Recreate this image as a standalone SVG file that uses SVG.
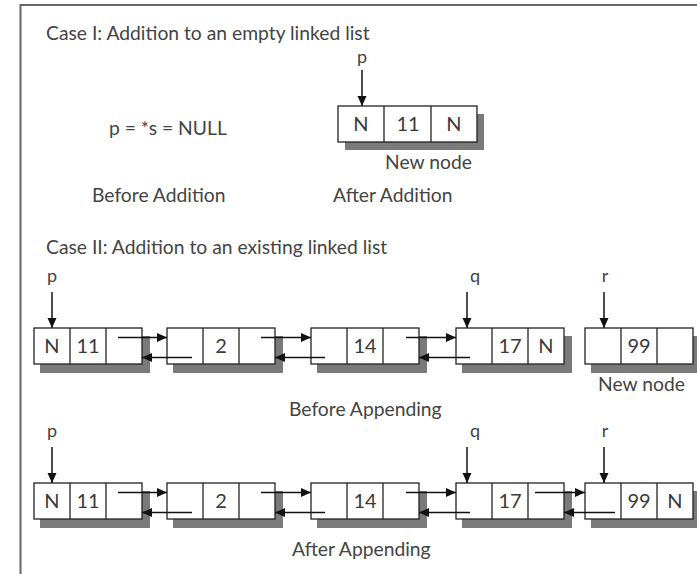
<svg xmlns="http://www.w3.org/2000/svg" width="697" height="574" viewBox="0 0 697 574">
<style>
text{font-family:"Lato","Liberation Sans",sans-serif;fill:#444;}
.lbl{font-size:19.3px;}
.cell{font-size:20px;text-anchor:middle;fill:#3a3a3a;}
.ptr{font-size:18px;text-anchor:middle;}
.box{fill:#fff;stroke:#222;stroke-width:1.3;}
.shd{fill:#7a7a7a;}
.div{stroke:#222;stroke-width:1.3;}
.con{stroke:#111;stroke-width:1.5;fill:none;marker-end:url(#ah);}
</style>
<defs>
<marker id="ah" markerUnits="userSpaceOnUse" markerWidth="11" markerHeight="10" refX="10" refY="4.5" orient="auto">
<path d="M0,0 L10,4.5 L0,9 z" fill="#111"/>
</marker>
</defs>
<rect width="697" height="574" fill="#fff"/>
<path d="M20.5,574 V5 H697" fill="none" stroke="#666" stroke-width="2"/>

<g id="labels">
<text class="lbl" x="46" y="40">Case I: Addition to an empty linked list</text>
<text class="lbl" x="109" y="135">p = *s = NULL</text>
<text class="lbl" x="92" y="202">Before Addition</text>
<text class="lbl" x="333" y="202">After Addition</text>
<text class="lbl" x="385" y="169">New node</text>
<text class="lbl" x="46" y="254">Case II: Addition to an existing linked list</text>
<text class="lbl" x="598" y="391">New node</text>
<text class="lbl" x="289" y="416">Before Appending</text>
<text class="lbl" x="292" y="556">After Appending</text>
<text class="ptr" x="362" y="63">p</text>
<text class="ptr" x="52" y="282">p</text>
<text class="ptr" x="475" y="282">q</text>
<text class="ptr" x="605" y="282">r</text>
<text class="ptr" x="52" y="437">p</text>
<text class="ptr" x="475" y="437">q</text>
<text class="ptr" x="605" y="437">r</text>
</g>

<g id="n0">
<rect class="shd" x="345" y="114" width="139" height="36"/>
<rect class="box" x="338" y="106" width="139" height="36"/>
<line class="div" x1="384" y1="106" x2="384" y2="142"/>
<line class="div" x1="431" y1="106" x2="431" y2="142"/>
<text class="cell" x="361" y="131">N</text>
<text class="cell" x="408" y="131">11</text>
<text class="cell" x="454" y="131">N</text>
</g>

<g id="a1">
<rect class="shd" x="40" y="336" width="110" height="37"/>
<rect class="box" x="34" y="328" width="108" height="36"/>
<line class="div" x1="70" y1="328" x2="70" y2="364"/>
<line class="div" x1="106" y1="328" x2="106" y2="364"/>
<text class="cell" x="52" y="353">N</text>
<text class="cell" x="88" y="353">11</text>
</g>
<g id="a2">
<rect class="shd" x="173" y="336" width="110" height="37"/>
<rect class="box" x="167" y="328" width="108" height="36"/>
<line class="div" x1="203" y1="328" x2="203" y2="364"/>
<line class="div" x1="239" y1="328" x2="239" y2="364"/>
<text class="cell" x="221" y="353">2</text>
</g>
<g id="a3">
<rect class="shd" x="317" y="336" width="110" height="37"/>
<rect class="box" x="311" y="328" width="108" height="36"/>
<line class="div" x1="347" y1="328" x2="347" y2="364"/>
<line class="div" x1="383" y1="328" x2="383" y2="364"/>
<text class="cell" x="365" y="353">14</text>
</g>
<g id="a4">
<rect class="shd" x="462" y="336" width="110" height="37"/>
<rect class="box" x="456" y="328" width="108" height="36"/>
<line class="div" x1="492" y1="328" x2="492" y2="364"/>
<line class="div" x1="528" y1="328" x2="528" y2="364"/>
<text class="cell" x="510" y="353">17</text>
<text class="cell" x="546" y="353">N</text>
</g>
<g id="a5">
<rect class="shd" x="591" y="336" width="106" height="37"/>
<rect class="box" x="585" y="328" width="108" height="36"/>
<line class="div" x1="621" y1="328" x2="621" y2="364"/>
<line class="div" x1="657" y1="328" x2="657" y2="364"/>
<text class="cell" x="639" y="353">99</text>
</g>

<g id="b1">
<rect class="shd" x="40" y="491" width="110" height="37"/>
<rect class="box" x="34" y="483" width="108" height="36"/>
<line class="div" x1="70" y1="483" x2="70" y2="519"/>
<line class="div" x1="106" y1="483" x2="106" y2="519"/>
<text class="cell" x="52" y="508">N</text>
<text class="cell" x="88" y="508">11</text>
</g>
<g id="b2">
<rect class="shd" x="173" y="491" width="110" height="37"/>
<rect class="box" x="167" y="483" width="108" height="36"/>
<line class="div" x1="203" y1="483" x2="203" y2="519"/>
<line class="div" x1="239" y1="483" x2="239" y2="519"/>
<text class="cell" x="221" y="508">2</text>
</g>
<g id="b3">
<rect class="shd" x="317" y="491" width="110" height="37"/>
<rect class="box" x="311" y="483" width="108" height="36"/>
<line class="div" x1="347" y1="483" x2="347" y2="519"/>
<line class="div" x1="383" y1="483" x2="383" y2="519"/>
<text class="cell" x="365" y="508">14</text>
</g>
<g id="b4">
<rect class="shd" x="462" y="491" width="110" height="37"/>
<rect class="box" x="456" y="483" width="108" height="36"/>
<line class="div" x1="492" y1="483" x2="492" y2="519"/>
<line class="div" x1="528" y1="483" x2="528" y2="519"/>
<text class="cell" x="510" y="508">17</text>
</g>
<g id="b5">
<rect class="shd" x="591" y="491" width="106" height="37"/>
<rect class="box" x="585" y="483" width="108" height="36"/>
<line class="div" x1="621" y1="483" x2="621" y2="519"/>
<line class="div" x1="657" y1="483" x2="657" y2="519"/>
<text class="cell" x="639" y="508">99</text>
<text class="cell" x="675" y="508">N</text>
</g>

<g id="connectors">
<path class="con" d="M362,70 V106"/>
<path class="con" d="M52,292 V328"/>
<path class="con" d="M467,292 V328"/>
<path class="con" d="M604,292 V328"/>
<path class="con" d="M52,447 V483"/>
<path class="con" d="M467,447 V483"/>
<path class="con" d="M604,447 V483"/>

<path class="con" d="M118,337.5 H167"/>
<path class="con" d="M192,357.5 H142"/>
<path class="con" d="M261,337.5 H311"/>
<path class="con" d="M325,357.5 H275"/>
<path class="con" d="M406,337.5 H456"/>
<path class="con" d="M470,357.5 H419"/>

<path class="con" d="M118,492.5 H167"/>
<path class="con" d="M192,512.5 H142"/>
<path class="con" d="M261,492.5 H311"/>
<path class="con" d="M325,512.5 H275"/>
<path class="con" d="M406,492.5 H456"/>
<path class="con" d="M470,512.5 H419"/>
<path class="con" d="M535,492.5 H585"/>
<path class="con" d="M615,512.5 H564"/>
</g>
</svg>
